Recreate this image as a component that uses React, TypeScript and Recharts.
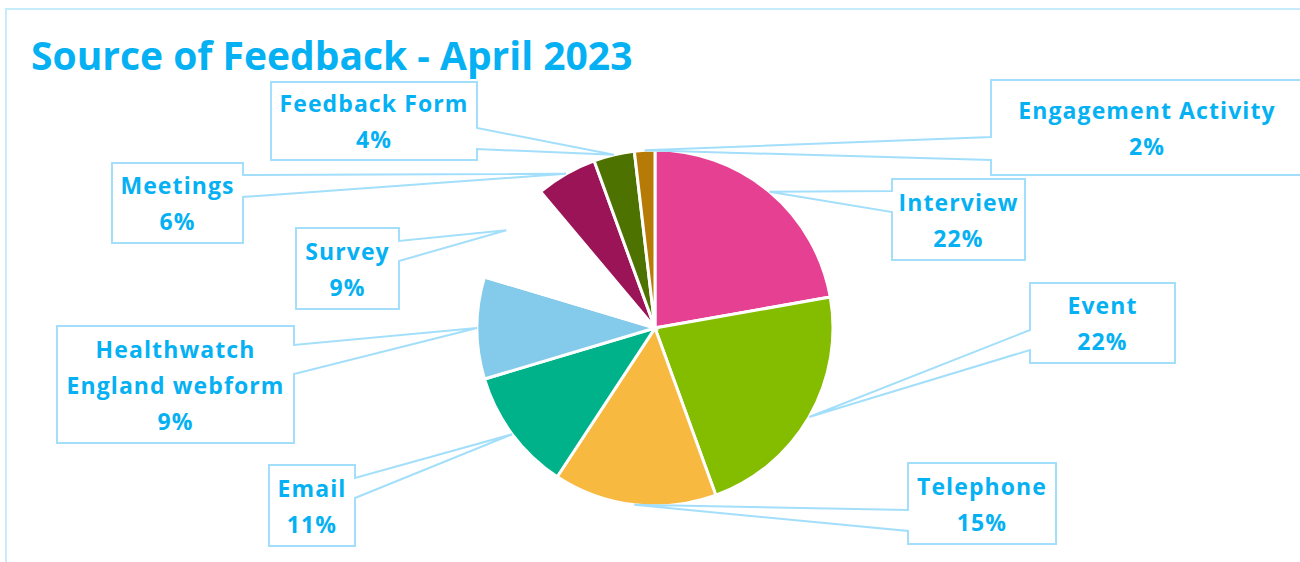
import React from 'react';
import { PieChart, Pie, Cell } from 'recharts';

// clockwise from 12 o'clock
const categories = [
    'Interview',
    'Event',
    'Telephone',
    'Email',
    'Healthwatch England webform',
    'Survey',
    'Meetings',
    'Feedback Form',
    'Engagement Activity'
];
const responses = [12, 12, 8, 6, 5, 5, 3, 2, 1];
const sliceColours = [
    '#E64093',
    '#84BC00',
    '#F8B940',
    '#00B28A',
    '#84CBEB',
    '#FFFFFF',
    '#9B1458',
    '#4E7200',
    '#B67A06'
];

// callout boxes, same order as categories (b1/b2 = where the pointer leaves the box edge)
const callouts = [
    { x: 892, y: 179, w: 133, h: 81, side: 'left', b1: 191, b2: 212, breakAt: 0 },
    { x: 1030, y: 283, w: 145, h: 80, side: 'left', b1: 330, b2: 350, breakAt: 0 },
    { x: 908, y: 463, w: 148, h: 81, side: 'left', b1: 510, b2: 531, breakAt: 0 },
    { x: 269, y: 465, w: 86, h: 81, side: 'right', b1: 478, b2: 498, breakAt: 0 },
    { x: 57, y: 326, w: 237, h: 117, side: 'right', b1: 345, b2: 374, breakAt: 1 },
    { x: 296, y: 228, w: 103, h: 81, side: 'right', b1: 241, b2: 261, breakAt: 0 },
    { x: 112, y: 163, w: 131, h: 80, side: 'right', b1: 175, b2: 197, breakAt: 0 },
    { x: 271, y: 82, w: 206, h: 78, side: 'right', b1: 128, b2: 149, breakAt: 0 },
    { x: 991, y: 80, w: 312, h: 95, side: 'left', b1: 137, b2: 160, breakAt: 0 }
];

const pieData = categories.map((name, i) => ({ name, value: responses[i] }));

const TEXT_BLUE = '#05B1F3';
const LINE_BLUE = '#A3DFFA';
const FONT = '"Open Sans", sans-serif';
const RAD = Math.PI / 180;
const LINE_H = 36;

const renderCallout = (props: any) => {
    const { cx, cy, midAngle, outerRadius, percent, index } = props;
    const box = callouts[index];
    const px = cx + outerRadius * Math.cos(-midAngle * RAD);
    const py = cy + outerRadius * Math.sin(-midAngle * RAD);
    const { x, y, w, h, b1, b2 } = box;

    let d;
    if (box.side === 'left') {
        d = `M${x},${y} L${x + w},${y} L${x + w},${y + h} L${x},${y + h} L${x},${b2} L${px},${py} L${x},${b1} Z`;
    } else {
        d = `M${x},${y} L${x + w},${y} L${x + w},${b1} L${px},${py} L${x + w},${b2} L${x + w},${y + h} L${x},${y + h} Z`;
    }

    const words = categories[index].split(' ');
    const lines = box.breakAt
        ? [words.slice(0, box.breakAt).join(' '), words.slice(box.breakAt).join(' ')]
        : [categories[index]];
    lines.push(`${Math.round(percent * 100)}%`);
    const firstBase = y + h / 2 - ((lines.length - 1) * LINE_H) / 2 + 9;

    return (
        <g key={`callout-${index}`}>
            <path d={d} fill="#FFFFFF" stroke={LINE_BLUE} strokeWidth={2} />
            {lines.map((t, j) => (
                <text
                    key={j}
                    x={x + w / 2}
                    y={firstBase + j * LINE_H}
                    textAnchor="middle"
                    fill={TEXT_BLUE}
                    fontFamily={FONT}
                    fontWeight={700}
                    fontSize={23}
                    letterSpacing={1.1}
                >
                    {t}
                </text>
            ))}
        </g>
    );
};

const App: React.FC = () => {
    return (
        <div
            style={{
                position: 'absolute',
                left: 0,
                top: 0,
                width: 1300,
                height: 562,
                overflow: 'hidden',
                background: '#FFFFFF'
            }}
        >
            <div
                style={{
                    position: 'absolute',
                    left: 5,
                    top: 8,
                    width: 1400,
                    height: 700,
                    border: '2px solid #C6ECFB'
                }}
            />
            <svg
                width={1300}
                height={100}
                style={{ position: 'absolute', left: 0, top: 0 }}
            >
                <text
                    x={31}
                    y={70}
                    fill={TEXT_BLUE}
                    fontFamily={FONT}
                    fontWeight={700}
                    fontSize={39}
                >
                    Source of Feedback - April 2023
                </text>
            </svg>
            <div style={{ position: 'absolute', left: 0, top: 0 }}>
                <PieChart width={1300} height={562} margin={{ top: 0, right: 0, bottom: 0, left: 0 }}>
                    <Pie
                        data={pieData}
                        dataKey="value"
                        nameKey="name"
                        cx={655}
                        cy={328}
                        outerRadius={178}
                        startAngle={90}
                        endAngle={-270}
                        stroke="#FFFFFF"
                        strokeWidth={3}
                        label={renderCallout}
                        labelLine={false}
                        isAnimationActive={false}
                    >
                        {pieData.map((entry, i) => (
                            <Cell key={entry.name} fill={sliceColours[i]} />
                        ))}
                    </Pie>
                </PieChart>
            </div>
        </div>
    );
};

export default App;
